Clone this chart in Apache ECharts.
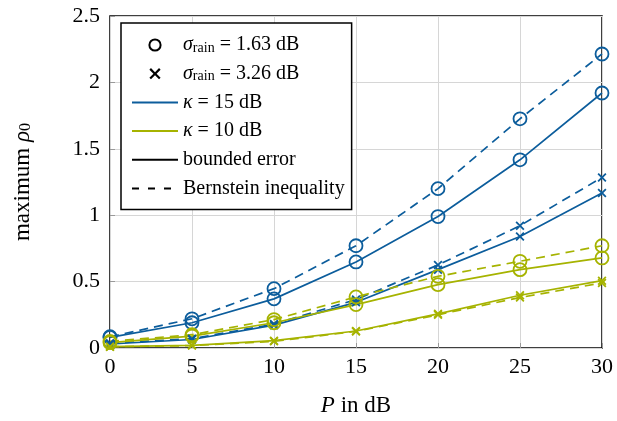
<!DOCTYPE html>
<html>
<head>
<meta charset="utf-8">
<script src="https://cdn.jsdelivr.net/npm/echarts@6/dist/echarts.min.js"></script>
<style>
  html, body { margin: 0; padding: 0; background: #fff; }
  #chart { width: 617px; height: 421px; }
</style>
</head>
<body>
<div id="chart"></div>
<script>
// P in dB
const powerDb = [0, 5, 10, 15, 20, 25, 30];
const yTicks = [0, 0.5, 1, 1.5, 2, 2.5];

// kappa = 15 dB
const k15Sig163Bern = [0.085, 0.22, 0.447, 0.77, 1.20, 1.726, 2.214];
const k15Sig163Bound = [0.08, 0.19, 0.37, 0.648, 0.99, 1.417, 1.92];
const k15Sig326Bern = [0.035, 0.07, 0.18, 0.365, 0.625, 0.921, 1.284];
const k15Sig326Bound = [0.03, 0.064, 0.172, 0.344, 0.59, 0.84, 1.167];
// kappa = 10 dB
const k10Sig163Bern = [0.05, 0.10, 0.214, 0.385, 0.54, 0.653, 0.77];
const k10Sig163Bound = [0.04, 0.09, 0.19, 0.327, 0.477, 0.59, 0.678];
const k10Sig326Bern = [0.01, 0.018, 0.05, 0.125, 0.25, 0.38, 0.49];
const k10Sig326Bound = [0.01, 0.02, 0.055, 0.128, 0.257, 0.397, 0.507];

const legendNames = ['sig163', 'sig326', 'k15', 'k10', 'bounded', 'bernstein'];

const BLUE = '#0c5d9c';
const YELLOW = '#a6b300';
const FONT = '"Liberation Serif", "DejaVu Serif", serif';
const CROSS = 'path://M0,1.4L1.4,0L5,3.6L8.6,0L10,1.4L6.4,5L10,8.6L8.6,10L5,6.4L1.4,10L0,8.6L3.6,5Z';
const CLEAR = 'rgba(0,0,0,0)';

function pairs(vals) {
  return powerDb.map((p, i) => [p, vals[i]]);
}

function curve(vals, color, dashed, marker) {
  const isCircle = marker === 'circle';
  return {
    type: 'line',
    data: pairs(vals),
    symbol: isCircle ? 'circle' : CROSS,
    symbolSize: isCircle ? 13 : 9,
    lineStyle: { color: color, width: 1.7, type: dashed ? [9, 6] : 'solid' },
    itemStyle: isCircle
      ? { color: CLEAR, borderColor: color, borderWidth: 1.8 }
      : { color: color, borderWidth: 0 },
    emphasis: { disabled: true },
    z: 3
  };
}

// empty series, only used for the legend entries
function legendOnly(name, opts) {
  return Object.assign({ name: name, type: 'line', data: [] }, opts);
}

function lineEntry(name, color, dashed) {
  return legendOnly(name, {
    symbol: 'circle', symbolSize: 1,
    itemStyle: { color: CLEAR, borderWidth: 0 },
    lineStyle: { color: color, width: 1.8, type: dashed ? [7, 9] : 'solid' }
  });
}

const richSub = {
  i: { fontFamily: FONT, fontSize: 20, fontStyle: 'italic', color: '#000' },
  s: { fontFamily: FONT, fontSize: 14, color: '#000', verticalAlign: 'bottom', padding: [7, 0, 0, 0] }
};

const chart = echarts.init(document.getElementById('chart'));

chart.setOption({
  animation: false,
  backgroundColor: '#fff',
  textStyle: { fontFamily: FONT },
  grid: {
    left: 110, right: 15, top: 16, bottom: 73,
    outerBoundsMode: 'none', containLabel: false,
    show: true, borderColor: '#000', borderWidth: 1.5, backgroundColor: 'transparent'
  },
  xAxis: {
    type: 'value', min: 0, max: 30, interval: 5,
    name: '{i|P} in dB', nameLocation: 'middle', nameGap: 46,
    nameTextStyle: {
      fontFamily: FONT, fontSize: 23, color: '#000',
      rich: { i: { fontFamily: FONT, fontSize: 23, fontStyle: 'italic', color: '#000' } }
    },
    axisLine: { show: false },
    axisTick: { show: true, inside: true, length: 5, lineStyle: { color: '#999' } },
    axisLabel: { fontFamily: FONT, fontSize: 22, color: '#000', margin: 8 },
    splitLine: { show: true, lineStyle: { color: '#d6d6d6', width: 1 } }
  },
  yAxis: {
    type: 'value', min: yTicks[0], max: yTicks[yTicks.length - 1], interval: 0.5,
    name: 'maximum {i|ρ}{s|0}', nameLocation: 'middle', nameGap: 76, nameRotate: 90,
    nameTextStyle: {
      fontFamily: FONT, fontSize: 23, color: '#000',
      rich: {
        i: { fontFamily: FONT, fontSize: 23, fontStyle: 'italic', color: '#000' },
        s: { fontFamily: FONT, fontSize: 16, color: '#000', verticalAlign: 'bottom', padding: [7, 0, 0, 0] }
      }
    },
    axisLine: { show: false },
    axisTick: { show: true, inside: true, length: 5, lineStyle: { color: '#999' } },
    axisLabel: { fontFamily: FONT, fontSize: 22, color: '#000', margin: 10 },
    splitLine: { show: true, lineStyle: { color: '#d6d6d6', width: 1 } }
  },
  legend: {
    data: legendNames,
    orient: 'vertical',
    left: 121, top: 23,
    padding: [12, 7, 11, 10],
    itemWidth: 46, itemHeight: 14, itemGap: 8.7,
    backgroundColor: '#fff',
    borderColor: '#000', borderWidth: 1.5, borderRadius: 0,
    selectedMode: false,
    formatter: function (name) {
      switch (name) {
        case 'sig163': return '{i|σ}{s|rain} = 1.63 dB';
        case 'sig326': return '{i|σ}{s|rain} = 3.26 dB';
        case 'k15': return '{i|κ} = 15 dB';
        case 'k10': return '{i|κ} = 10 dB';
        case 'bounded': return 'bounded error';
        default: return 'Bernstein inequality';
      }
    },
    textStyle: { fontFamily: FONT, fontSize: 20, lineHeight: 20, color: '#000', rich: richSub }
  },
  series: [
    curve(k15Sig163Bern, BLUE, true, 'circle'),
    curve(k15Sig163Bound, BLUE, false, 'circle'),
    curve(k15Sig326Bern, BLUE, true, 'cross'),
    curve(k15Sig326Bound, BLUE, false, 'cross'),
    curve(k10Sig163Bern, YELLOW, true, 'circle'),
    curve(k10Sig163Bound, YELLOW, false, 'circle'),
    curve(k10Sig326Bern, YELLOW, true, 'cross'),
    curve(k10Sig326Bound, YELLOW, false, 'cross'),
    legendOnly('sig163', {
      symbol: 'circle', symbolSize: 11,
      itemStyle: { color: CLEAR, borderColor: '#000', borderWidth: 2 },
      lineStyle: { opacity: 0, width: 0 }
    }),
    legendOnly('sig326', {
      symbol: CROSS, symbolSize: 8,
      itemStyle: { color: '#000' },
      lineStyle: { opacity: 0, width: 0 }
    }),
    lineEntry('k15', BLUE, false),
    lineEntry('k10', YELLOW, false),
    lineEntry('bounded', '#000', false),
    lineEntry('bernstein', '#000', true)
  ]
});
</script>
</body>
</html>
